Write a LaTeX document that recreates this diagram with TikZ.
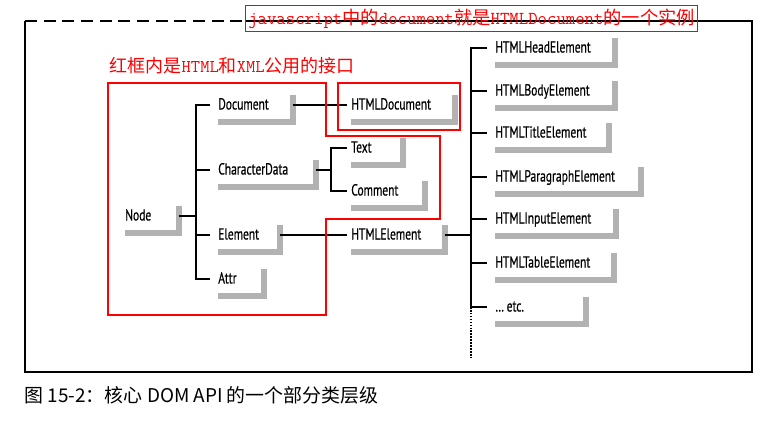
\documentclass[tikz,border=0pt]{standalone}
\usepackage{fontspec}
\newfontfamily\clsfont{PT Sans}[FakeStretch=0.72,FakeBold=0.6]
\newfontfamily\cjk{Noto Sans CJK SC}
\usetikzlibrary{positioning}
\hyphenpenalty=10000

\begin{document}
\begin{tikzpicture}[x=0.75pt,y=-0.75pt,
 cls/.style={anchor=west,text width=#1,align=left,inner sep=0pt,text height=13pt,text depth=6.25pt,
   font=\clsfont\fontsize{12}{13}\selectfont},
 shadowl/.style={draw=gray!60,line width=4.5pt},
 link/.style={line width=1.5pt},
 frame/.style={line width=1pt},
 redline/.style={draw=red,line width=0.9pt},
 note/.style={text=red,font=\cjk\fontsize{13.5}{15}\selectfont}]
\useasboundingbox (0,0) rectangle (773,421);
% outer frame
\draw[frame,dash pattern=on 9pt off 5pt] (25,21) -- (245,21);
\draw[frame] (245,21) -- (752,21) -- (752,372) -- (25,372) -- (25,21);
% classes
\node[cls=39.75pt](nd) at (125,216){Node};
\node[cls=55.5pt](doc) at (218,105){Document};
\node[cls=72.75pt](cd) at (218,170){CharacterData};
\node[cls=45.75pt](el) at (218,235){Element};
\node[cls=33.75pt](attr) at (218,279){Attr};
\node[cls=38.25pt](txt) at (351,148){Text};
\node[cls=54.75pt](cmt) at (351,191){Comment};
\node[cls=77.25pt](hdoc) at (351,105){HTMLDocument};
\node[cls=69.75pt](hel) at (351,235){HTMLElement};
\node[cls=89.25pt](head) at (495,48){HTMLHeadElement};
\node[cls=89.25pt](body) at (495,91){HTMLBodyElement};
\node[cls=84.75pt](title) at (495,133){HTMLTitleElement};
\node[cls=108.75pt](para) at (495,177){HTMLParagraphElement};
\node[cls=90pt](input) at (495,219){HTMLInputElement};
\node[cls=88.5pt](table) at (495,263){HTMLTableElement};
\node[cls=67.5pt](etc) at (495,307){\dots\,etc.};
\foreach \n in {nd,doc,cd,el,attr,txt,cmt,hdoc,hel,head,body,title,para,input,table,etc}
  \draw[shadowl] ([yshift=-2.6pt]\n.north east) -- ([yshift=-2.6pt]\n.south east) -- ([yshift=-2.6pt]\n.south west);
% tree lines
\draw[link] (nd.east) -- ++(17,0) coordinate (j1);
\draw[link] ([xshift=-6pt]doc.west) -| (j1) |- ([xshift=-6pt]attr.west);
\foreach \n in {cd,el} \draw[link] (j1 |- \n.west) -- ([xshift=-6pt]\n.west);
\draw[link] (doc.east) -- ([xshift=-3pt]hdoc.west);
\draw[link] (cd.east) -- ++(15,0) coordinate (j2);
\draw[link] ([xshift=-3pt]txt.west) -| (j2) |- ([xshift=-3pt]cmt.west);
\draw[link] (el.east) -- ([xshift=-3pt]hel.west);
\draw[link] (hel.east) -- ++(26,0) coordinate (j3);
\draw[link] ([xshift=-6pt]head.west) -| (j3) |- ([xshift=-6pt]etc.west);
\foreach \n in {body,title,para,input,table} \draw[link] (j3 |- \n.west) -- ([xshift=-6pt]\n.west);
\coordinate (more) at (0,357);
\draw[link,dash pattern=on 1.2pt off 1pt] (j3 |- etc.west) -- (j3 |- more);
% red notes
\draw[redline] (108,83) -- (326,83) -- (326,136) -- (440,136) -- (440,219) -- (326,219) -- (326,315) -- (108,315) -- cycle;
\draw[redline] (338,83) rectangle (460,130);
\node[note,anchor=west](inner) at (105,66){红框内是{\ttfamily HTML}和{\ttfamily XML}公用的接口};
\node[note,redline,anchor=west,inner sep=2pt,minimum height=20pt,font=\cjk\fontsize{13.7}{15}\selectfont](inst) at (245,18.5){{\ttfamily javascript}中的{\ttfamily document}就是{\ttfamily HTMLDocument}的一个实例};
% caption
\node[font=\cjk\fontsize{14.2}{16}\selectfont,anchor=west](cap) at (20,395){图 15-2：核心 DOM API 的一个部分类层级};
\end{tikzpicture}
\end{document}
